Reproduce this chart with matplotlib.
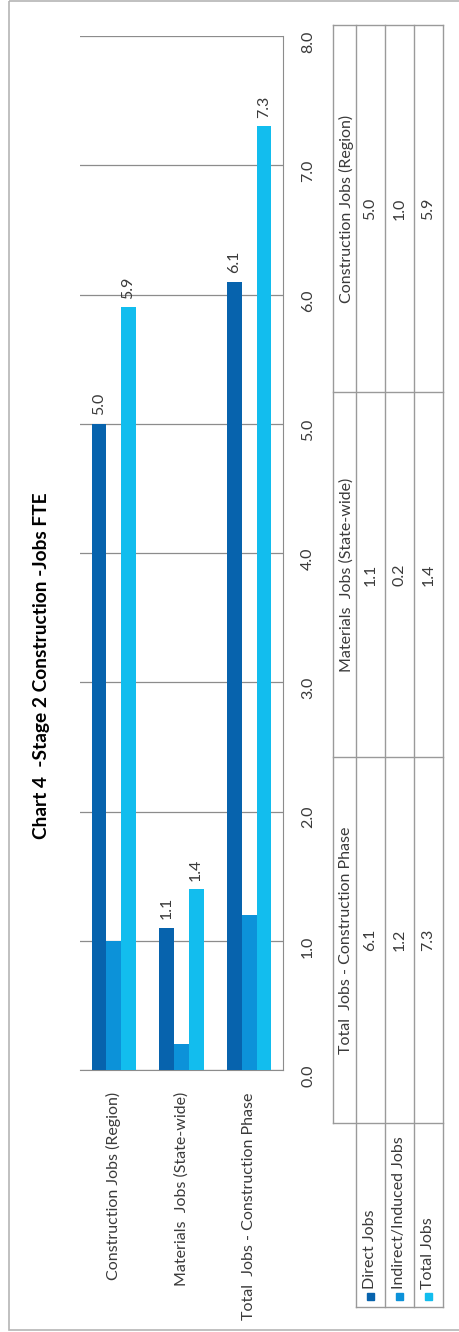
import numpy as np
import matplotlib
matplotlib.use("Agg")
import matplotlib.pyplot as plt
from matplotlib.lines import Line2D
from matplotlib.patches import Rectangle

# ============================================================
# Dados
# ============================================================

categorias = ["Construction Jobs (Region)", "Materials  Jobs (State-wide)",
              "Total  Jobs - Construction Phase"]
series = ["Direct Jobs", "Indirect/Induced Jobs", "Total Jobs"]
direct_jobs = [5.0, 1.1, 6.1]
indirect_jobs = [1.0, 0.2, 1.2]
total_jobs = [5.9, 1.4, 7.3]
ticks_valor = [0, 1, 2, 3, 4, 5, 6, 7, 8]
titulo = "Chart 4  -Stage 2 Construction -Jobs FTE"

cores = ["#0763AD", "#0C92D9", "#12BDEE"]
fonte = "Lato"
plt.rcParams["font.family"] = [fonte, "DejaVu Sans"]
tam = 11.5
cor_texto = "#3a3a3a"

W, H = 460, 1332
fig = plt.figure(figsize=(W / 100, H / 100), dpi=100)

# ============================================================
# Gráfico (desenhado já girado 90 graus)
# ============================================================

x0, x1, y0, y1 = 80, 283, 36, 1070
ax = fig.add_axes([x0 / W, 1 - y1 / H, (x1 - x0) / W, (y1 - y0) / H])

valores = [direct_jobs, indirect_jobs, total_jobs]
pos = np.arange(len(categorias))
largura = 0.217

for i, (nome, vals) in enumerate(zip(series, valores)):
    barras = ax.bar(pos + (i - 1) * largura, vals, width=largura,
                    color=cores[i], label=nome, zorder=3)
    if i != 1:
        for b, v in zip(barras, vals):
            ax.annotate(f"{v:.1f}", xy=(b.get_x() + b.get_width() / 2, v),
                        xytext=(0, 6), textcoords="offset points",
                        rotation=90, ha="center", va="bottom",
                        fontsize=tam, color=cor_texto)

ax.set_xlim(-0.5, len(categorias) - 0.5)
ax.set_ylim(0, 8)
ax.set_yticks(ticks_valor)
ax.set_yticklabels([f"{t:.1f}" for t in ticks_valor])
ax.yaxis.tick_right()
ax.tick_params(axis="y", length=0, pad=13, labelrotation=90,
               labelsize=tam, labelcolor=cor_texto)
ax.set_xticks(pos)
ax.set_xticklabels(categorias, rotation=90, ha="center", va="top")
ax.tick_params(axis="x", length=0, pad=16, labelsize=tam, labelcolor=cor_texto)

ax.grid(axis="y", color="#8c8c8c", linewidth=0.9, zorder=0)
for lado in ["top", "left"]:
    ax.spines[lado].set_visible(False)
ax.spines["right"].set_color("#8c8c8c")
ax.spines["bottom"].set_color("#8c8c8c")
ax.set_facecolor("none")

# ============================================================
# Camada em pixels: título, tabela, moldura
# ============================================================

ov = fig.add_axes([0, 0, 1, 1], zorder=-1)
ov.set_xlim(0, W)
ov.set_ylim(H, 0)
ov.axis("off")

ov.add_patch(Rectangle((9, 0.8), W, 1329, fill=False,
                       edgecolor="#b5b5b5", linewidth=1.2))

ov.text(42, 666, titulo, rotation=90, ha="center", va="center",
        fontsize=13.8, fontweight="bold", color="black")

# tabela de dados
linhas_x = [333, 356, 385, 414, 443]
col_y = [25, 392, 757, 1123]
leg_fim = 1307
cor_linha = "#9a9a9a"

def linha(xs, ys):
    ov.add_line(Line2D(xs, ys, color=cor_linha, linewidth=1.0))

linha([linhas_x[0], linhas_x[0]], [col_y[0], col_y[-1]])
for xl in linhas_x[1:]:
    linha([xl, xl], [col_y[0], leg_fim])
for yl in col_y:
    linha([linhas_x[0], linhas_x[-1]], [yl, yl])
linha([linhas_x[1], linhas_x[-1]], [leg_fim, leg_fim])

centros_linha = [(a + b) / 2 for a, b in zip(linhas_x[:-1], linhas_x[1:])]
for j, cat in enumerate(categorias):
    yc = (col_y[j] + col_y[j + 1]) / 2
    ov.text(centros_linha[0] + 2, yc, cat, rotation=90, ha="center",
            va="center", fontsize=tam, color=cor_texto)
    for i, vals in enumerate(valores):
        ov.text(centros_linha[i + 1], yc, f"{vals[j]:.1f}", rotation=90,
                ha="center", va="center", fontsize=tam, color=cor_texto)

for i, nome in enumerate(series):
    xc = centros_linha[i + 1]
    ov.add_patch(Rectangle((xc - 3.5, 1293), 7, 7, color=cores[i]))
    ov.text(xc, 1289, nome, rotation=90, ha="center", va="bottom",
            fontsize=tam, color=cor_texto)

fig.savefig("out.png", dpi=100, facecolor="white")
